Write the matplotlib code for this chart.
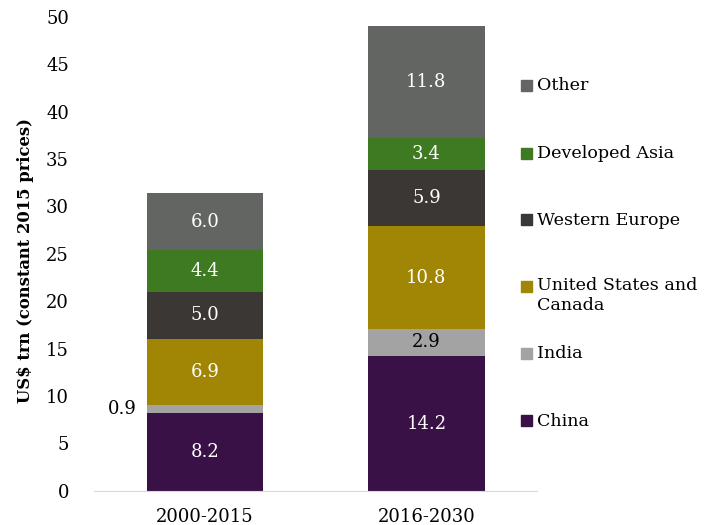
import matplotlib
matplotlib.use("Agg")
import matplotlib.pyplot as plt
from matplotlib.patches import Rectangle
import numpy as np

periods = ["2000-2015", "2016-2030"]
regions = ["China", "India", "United States and\nCanada", "Western Europe", "Developed Asia", "Other"]
china = [8.2, 14.2]
india = [0.9, 2.9]
us_canada = [6.9, 10.8]
w_europe = [5.0, 5.9]
dev_asia = [4.4, 3.4]
other = [6.0, 11.8]
series = [china, india, us_canada, w_europe, dev_asia, other]
colors = ["#3a1146", "#a3a3a3", "#a08604", "#3b3735", "#3e7a22", "#636563"]
label_colors = ["white", "black", "white", "white", "white", "white"]

plt.rcParams['font.family'] = ['DejaVu Serif']

fig = plt.figure(figsize=(7.06, 5.25), dpi=100)
ax = fig.add_axes([0.133, 0.065, 0.628, 0.903])

x = np.arange(len(periods))
bottom = np.zeros(len(periods))
for vals, c, tc in zip(series, colors, label_colors):
    vals = np.array(vals)
    ax.bar(x, vals, 0.525, bottom=bottom, color=c, edgecolor="none")
    for i, v in enumerate(vals):
        if v < 1.5:
            # too thin, put label to the left
            ax.text(x[i] - 0.37, bottom[i] + v / 2, f"{v:.1f}", ha="center", va="center",
                    fontsize=13, color="black")
        else:
            ax.text(x[i], bottom[i] + v / 2, f"{v:.1f}", ha="center", va="center",
                    fontsize=13, color=tc)
    bottom += vals

ax.set_xlim(-0.5, 1.5)
ax.set_ylim(0, 50)
ax.set_yticks(range(0, 51, 5))
ax.set_xticks(x)
ax.set_xticklabels(periods, fontsize=13)
ax.tick_params(axis="y", labelsize=13, length=0, pad=18)
ax.tick_params(axis="x", length=0, pad=12)
for s in ["top", "right", "left"]:
    ax.spines[s].set_visible(False)
ax.spines["bottom"].set_color("#d9d9d9")
ax.set_ylabel("US$ trn (constant 2015 prices)", fontsize=11.8, fontweight="bold")
ax.yaxis.set_label_coords(-0.135, 0.485)

# legend, top to bottom
leg_y = [86, 154, 220, 287, 354, 421]
for name, c, yy in zip(regions[::-1], colors[::-1], leg_y):
    yf = 1 - yy / 525
    fig.patches.append(Rectangle((521 / 706, yf - 5 / 525), 11 / 706, 11 / 525,
                                 transform=fig.transFigure, color=c))
    multi = "\n" in name
    fig.text(537 / 706, yf + 10 / 525 if multi else yf, name, fontsize=12.6,
             va="top" if multi else "center", ha="left", linespacing=1.2)

fig.savefig("out.png", dpi=100)
